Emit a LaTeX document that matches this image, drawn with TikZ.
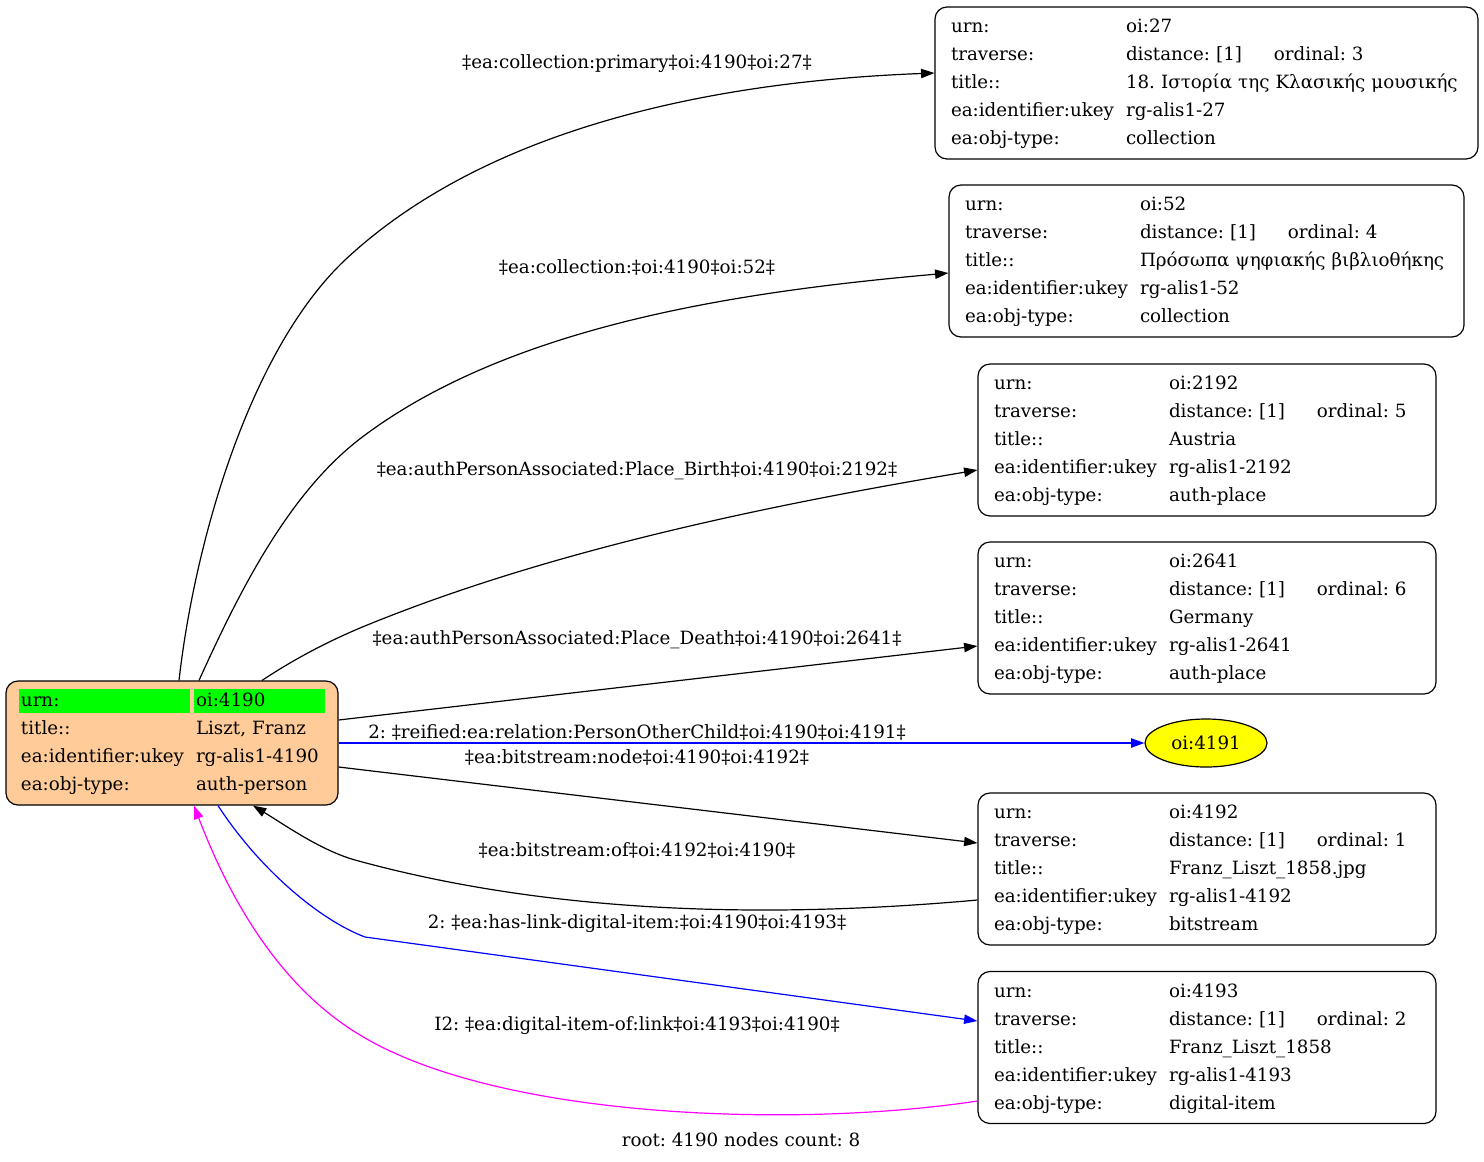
\documentclass[tikz,border=0pt]{standalone}
\usepackage{fontspec}
\setmainfont{DejaVu Serif}
\usepackage{tikz}
\usetikzlibrary{shapes.geometric,arrows.meta}
\frenchspacing

\definecolor{peach}{RGB}{255,204,153}
\definecolor{cellgreen}{RGB}{0,255,0}
\definecolor{nodeyellow}{RGB}{255,255,0}
\definecolor{edgeblue}{RGB}{0,0,255}
\definecolor{edgemagenta}{RGB}{255,0,255}

% one record: urn, ordinal, title, ukey, type
\newcommand{\recrows}[5]{%
  \begin{tabular}{@{}p{131.25pt}@{}l@{}}
    urn: & #1\\
    traverse: & \makebox[111pt][l]{distance: [1]}ordinal: #2\\
    title:: & #3\\
    ea:identifier:ukey & #4\\
    ea:obj-type: & #5
  \end{tabular}}
\newcommand{\greencell}[2]{{\fboxsep=1.5pt\colorbox{cellgreen}{\makebox[\dimexpr#1-3pt\relax][l]{\rule[-3.3pt]{0pt}{15pt}#2}}}}

\begin{document}
\begin{tikzpicture}[x=0.75pt,y=-0.75pt,
    every node/.style={font=\fontsize{13.7}{21}\selectfont},
    record/.style={draw, line width=0.9pt, rounded corners=9pt,
      inner xsep=12pt, inner ysep=4.5pt, text width=#1},
    edge/.style={line width=0.9pt, -{Triangle[length=10pt,width=7pt]}},
    lab/.style={inner sep=0pt}]
  \useasboundingbox (0,0) rectangle (1484,1161);

  % root node
  \node[record=229.5pt, fill=peach, inner xsep=9.75pt] (L) at (172,743) {%
    \begin{tabular}{@{}p{131.25pt}@{}l@{}}
      \greencell{128.25pt}{urn:} & \greencell{98.25pt}{oi:4190}\\
      \hspace*{1.5pt}title:: & \hspace*{1.5pt}Liszt, Franz\\
      \hspace*{1.5pt}ea:identifier:ukey & \hspace*{1.5pt}rg-alis1-4190\\
      \hspace*{1.5pt}ea:obj-type: & \hspace*{1.5pt}auth-person
    \end{tabular}};

  % neighbours
  \node[record=383.25pt] (n27) at (1206.5,83)
    {\recrows{oi:27}{3}{18. Ιστορία της Κλασικής μουσικής}{rg-alis1-27}{collection}};
  \node[record=362.25pt] (n52) at (1206.5,261)
    {\recrows{oi:52}{4}{Πρόσωπα ψηφιακής βιβλιοθήκης}{rg-alis1-52}{collection}};
  \node[record=319.5pt] (n2192) at (1207,440)
    {\recrows{oi:2192}{5}{Austria}{rg-alis1-2192}{auth-place}};
  \node[record=319.5pt] (n2641) at (1207,618)
    {\recrows{oi:2641}{6}{Germany}{rg-alis1-2641}{auth-place}};
  \node[ellipse, draw, line width=0.9pt, fill=nodeyellow, inner sep=0pt,
        minimum width=91.5pt, minimum height=36pt] (n4191) at (1206,743) {oi:4191};
  \node[record=319.5pt] (n4192) at (1207,869)
    {\recrows{oi:4192}{1}{Franz\_Liszt\_1858.jpg}{rg-alis1-4192}{bitstream}};
  \node[record=319.5pt] (n4193) at (1207,1047.5)
    {\recrows{oi:4193}{2}{Franz\_Liszt\_1858}{rg-alis1-4193}{digital-item}};

  % edges
  \draw[edge] ([xshift=5.25pt]L.north) .. controls (195,540) and (250,350) .. (345,260)
    .. controls (500,115) and (750,80) .. ([yshift=7.5pt]n27.west);
  \draw[edge] ([xshift=20.25pt]L.north) .. controls (240,590) and (290,490) .. (365,435)
    .. controls (520,320) and (760,290) .. ([yshift=-9pt]n52.west);
  \draw[edge] ([xshift=67.5pt]L.north) .. controls (290,662) and (320,645) .. (360,628)
    .. controls (560,545) and (800,500) .. ([yshift=-22.5pt]n2192.west);
  \draw[edge] ([yshift=17.25pt]L.east) -- ([yshift=-21pt]n2641.west);
  \draw[edge, edgeblue] (L.east) -- (n4191.west);
  \draw[edge] ([yshift=-18pt]L.east) -- ([yshift=19.5pt]n4192.west);
  \draw[edge] ([yshift=-23.25pt]n4192.west) .. controls (700,925) and (500,900) .. (355,860)
    .. controls (320,850) and (285,825) .. ([xshift=60.75pt]L.south);
  \draw[edge, edgeblue] ([xshift=34.5pt]L.south) .. controls (260,870) and (320,920) .. (365,937)
    -- ([yshift=19.875pt]n4193.west);
  \draw[edge, edgemagenta] ([yshift=-40.125pt]n4193.west) .. controls (800,1128) and (500,1120) .. (360,1035)
    .. controls (280,987) and (230,900) .. ([xshift=16.5pt]L.south);

  % edge labels
  \node[lab] (l27) at (637,64) {‡ea:collection:primary‡oi:4190‡oi:27‡};
  \node[lab] (l52) at (637,267) {‡ea:collection:‡oi:4190‡oi:52‡};
  \node[lab] (l2192) at (637,471) {‡ea:authPersonAssociated:Place\_Birth‡oi:4190‡oi:2192‡};
  \node[lab] (l2641) at (637,640) {‡ea:authPersonAssociated:Place\_Death‡oi:4190‡oi:2641‡};
  \node[lab] (l4191) at (637,732) {2: ‡reified:ea:relation:PersonOtherChild‡oi:4190‡oi:4191‡};
  \node[lab] (l4192) at (637,757) {‡ea:bitstream:node‡oi:4190‡oi:4192‡};
  \node[lab] (l4192b) at (637,850) {‡ea:bitstream:of‡oi:4192‡oi:4190‡};
  \node[lab] (l4193) at (637,924) {2: ‡ea:has-link-digital-item:‡oi:4190‡oi:4193‡};
  \node[lab] (l4193b) at (637,1026) {I2: ‡ea:digital-item-of:link‡oi:4193‡oi:4190‡};

  \node[lab] (root) at (741,1140) {root: 4190 nodes count: 8};
\end{tikzpicture}
\end{document}
